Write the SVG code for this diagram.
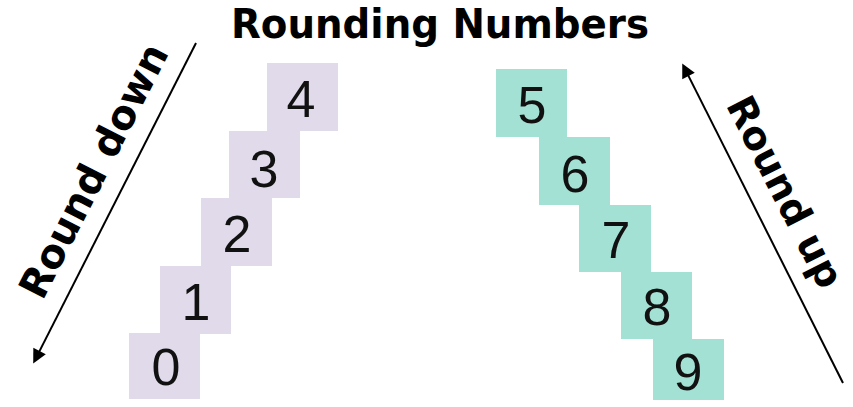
<svg xmlns="http://www.w3.org/2000/svg" width="853" height="407" viewBox="0 0 853 407">
<style>
.lo{fill:#E0DAEA}
.hi{fill:#A3E1D4}
.d{font-family:"Liberation Sans",Arial,sans-serif;font-size:52px;fill:#111;text-anchor:middle}
.b{font-family:"DejaVu Sans","Liberation Sans",sans-serif;font-weight:bold;font-size:40px;fill:#000;text-anchor:middle}
.ar{stroke:#000;stroke-width:2;fill:none;marker-end:url(#ah)}
</style>
<defs>
<marker id="ah" viewBox="0 0 10 10" markerUnits="userSpaceOnUse" markerWidth="16" markerHeight="14" refX="7.5" refY="5" orient="auto">
<path d="M0,0 L10,5 L0,10 z" fill="#000"/>
</marker>
</defs>
<rect width="853" height="407" fill="#fff"/>
<text id="title" class="b" x="440" y="38" textLength="418" lengthAdjust="spacingAndGlyphs">Rounding Numbers</text>
<g id="n0"><rect class="lo" x="129" y="333" width="71" height="66"/><text class="d" x="166" y="385">0</text></g>
<g id="n1"><rect class="lo" x="160" y="266" width="71" height="68"/><text class="d" x="196" y="320">1</text></g>
<g id="n2"><rect class="lo" x="201" y="198" width="71" height="68"/><text class="d" x="237" y="252">2</text></g>
<g id="n3"><rect class="lo" x="229" y="131" width="71" height="67"/><text class="d" x="264" y="187">3</text></g>
<g id="n4"><rect class="lo" x="267" y="63" width="71" height="68"/><text class="d" x="301" y="117">4</text></g>
<g id="n5"><rect class="hi" x="496" y="69" width="71" height="68"/><text class="d" x="532" y="123">5</text></g>
<g id="n6"><rect class="hi" x="539" y="137" width="71" height="68"/><text class="d" x="575" y="192">6</text></g>
<g id="n7"><rect class="hi" x="579" y="205" width="72" height="67"/><text class="d" x="616" y="258">7</text></g>
<g id="n8"><rect class="hi" x="621" y="272" width="71" height="67"/><text class="d" x="657" y="325">8</text></g>
<g id="n9"><rect class="hi" x="653" y="339" width="71" height="61"/><text class="d" x="688" y="390">9</text></g>
<g id="connectors">
<line class="ar" x1="196" y1="43" x2="34.8" y2="360.4"/>
<line class="ar" x1="843" y1="383" x2="683.8" y2="66.6"/>
</g>
<text id="down" class="b" transform="translate(106,177) rotate(-63)">Round down</text>
<text id="up" class="b" style="font-size:39px" transform="translate(773,198) rotate(63)">Round up</text>
</svg>
